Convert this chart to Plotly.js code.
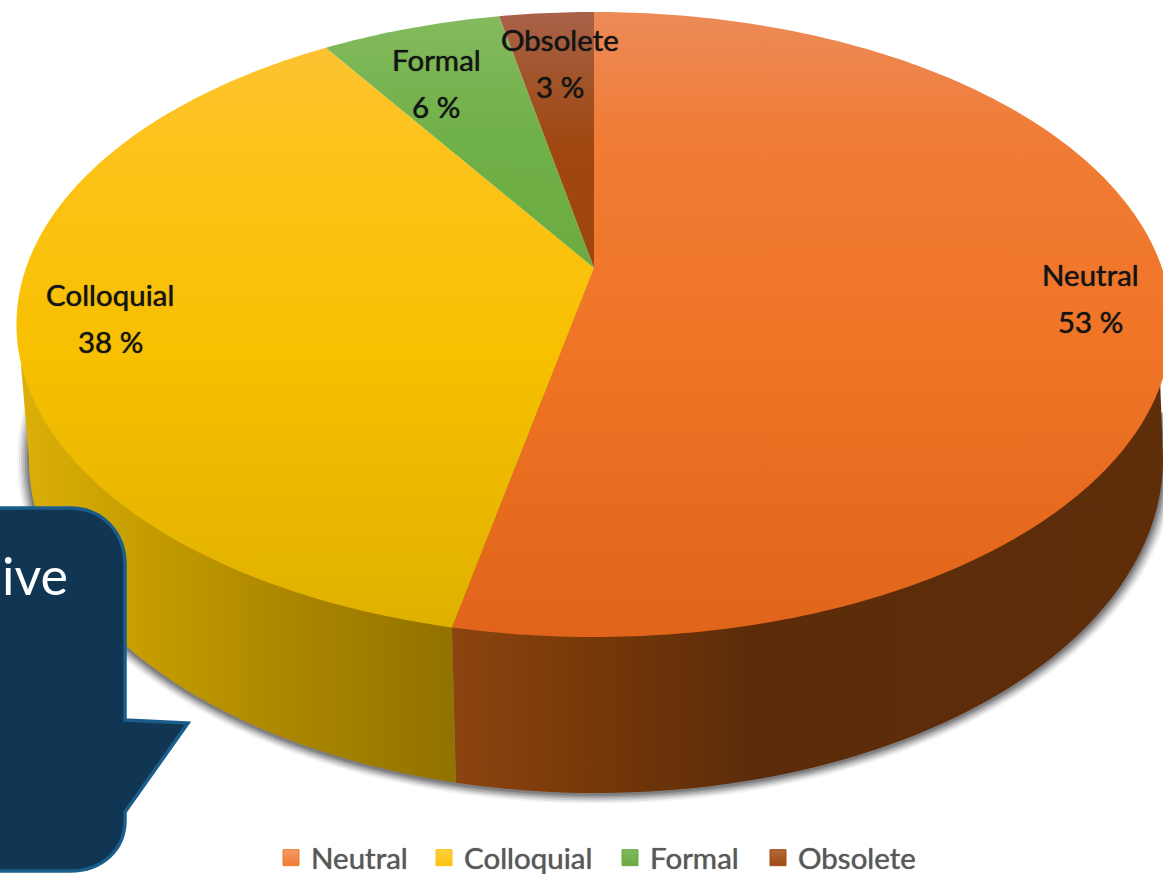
<!DOCTYPE html>
<html><head><meta charset="utf-8">
<script src="https://cdn.plot.ly/plotly-3.0.1.min.js"></script>
<style>html,body{margin:0;padding:0;background:#fff;overflow:hidden}#c{width:1163px;height:874px}</style>
</head><body><div id="c"></div>
<script>
const categories = ['Neutral', 'Colloquial', 'Formal', 'Obsolete'];
const shares = [53.3, 37.55, 6.0, 3.15];
const swatchColors = ['#f07a30', '#fdc210', '#6aab40', '#a04a14'];
const swatchLight = ['#f59a68', '#fdd040', '#80b860', '#b06a3a'];
const legendLeft = [271, 424, 610, 758];
const labelTextColor = '#141414';

// Perspective disc: circle projected to the page
const cx = 594, halfW = 568, persp = 0.1808, apexLift = 369, baseY = 637;
function project(pct) {
  const t = pct / 100 * 2 * Math.PI, u = Math.sin(t), v = Math.cos(t), w = 1 + persp * v;
  return [cx + halfW * u / w, baseY - apexLift * (v + 1) / w];
}
const apex = [cx, baseY - apexLift];
// Lower rim of the drum
const rim = {cx: 596, a: 567, cy: 459, b: 334};
function rimPt(phi) { return [rim.cx + rim.a * Math.cos(phi), rim.cy + rim.b * Math.sin(phi)]; }

const topScales = [
  [[0,'#ec8a58'],[0.2,'#f07c36'],[0.55,'#f07425'],[1,'#e0641a']],
  [[0,'#fcc23a'],[0.2,'#fdc31c'],[0.55,'#f7c000'],[1,'#dfb000']],
  [[0,'#84bb5e'],[0.2,'#70b048'],[1,'#5f9f30']],
  [[0,'#a9634a'],[0.1,'#a2552c'],[0.22,'#a0470f'],[1,'#9a3f08']]
];

const traces = [];
// soft shadow under the drum
[[12,0.06],[10,0.1],[8,0.14],[6,0.18],[4,0.24],[2,0.32]].forEach(([g, op]) => {
  const xs = [], ys = [];
  for (let d = -8; d <= 198; d += 2) {
    const p = d * Math.PI / 180;
    xs.push(rim.cx + (rim.a + g) * Math.cos(p));
    ys.push(rim.cy + 1 + (rim.b + g * 0.8) * Math.sin(p));
  }
  traces.push({x: xs, y: ys, mode: 'none', fill: 'toself', fillcolor: 'rgba(70,70,75,' + op + ')', showlegend: false, hoverinfo: 'skip'});
});

// side walls: split sits where the Neutral slice ends
const split = project(shares[0]);
const splitPhi = Math.acos((split[0] + 4 - rim.cx) / rim.a);
function wall(from, to, extra) {
  const xs = [], ys = [], n = 90;
  for (let i = 0; i <= n; i++) { const q = rimPt(from + (to - from) * i / n); xs.push(q[0]); ys.push(q[1]); }
  extra.forEach(q => { xs.push(q[0]); ys.push(q[1]); });
  return [xs, ys];
}
let w = wall(0, splitPhi, [split, apex, [1160, 378]]);
traces.push({x: w[0], y: w[1], mode: 'none', fill: 'toself', showlegend: false, hoverinfo: 'skip',
  fillcolor: '#5c2c0a',
  fillgradient: {type: 'horizontal', start: split[0], stop: 1163,
    colorscale: [[0,'#8c4410'],[0.2,'#763808'],[0.42,'#5c2c0a'],[1,'#5e2d0a']]}});
w = wall(splitPhi, Math.PI, [[21, 365], apex, split]);
traces.push({x: w[0], y: w[1], mode: 'none', fill: 'toself', showlegend: false, hoverinfo: 'skip',
  fillcolor: '#b08a00',
  fillgradient: {type: 'horizontal', start: 20, stop: split[0],
    colorscale: [[0,'#dcb008'],[0.3,'#c49c00'],[0.65,'#a98500'],[1,'#927200']]}});

// top slices
let cum = 0;
shares.forEach((s, i) => {
  const xs = [apex[0]], ys = [apex[1]];
  const steps = Math.max(8, Math.round(s * 4));
  for (let k = 0; k <= steps; k++) { const q = project(cum + s * k / steps); xs.push(q[0]); ys.push(q[1]); }
  xs.push(apex[0]); ys.push(apex[1]);
  traces.push({x: xs, y: ys, mode: 'none', fill: 'toself', showlegend: false, hoverinfo: 'skip',
    fillcolor: swatchColors[i],
    fillgradient: {type: 'vertical', start: 12, stop: 637, colorscale: topScales[i]}});
  cum += s;
});

// legend entries: one small legend per category so each can be placed
const legendFont = {family: 'Lato, sans-serif', size: 29.5, color: '#595959', shadow: '0 0 1px #595959'};
const extraLegends = {};
categories.forEach((c, i) => {
  const id = i === 0 ? 'legend' : 'legend' + (i + 1);
  traces.push({x: [null], y: [null], name: c, legend: id, mode: 'markers', hoverinfo: 'skip',
    marker: {symbol: 'square', size: 16, color: swatchLight[i], line: {width: 1, color: swatchColors[i]},
      gradient: {type: 'vertical', color: swatchColors[i]}}});
  extraLegends[id] = {x: legendLeft[i] / 1163, xanchor: 'left', y: 1 - 858 / 874, yanchor: 'middle',
    font: legendFont, itemsizing: 'trace', itemclick: false, itemdoubleclick: false, bgcolor: 'rgba(0,0,0,0)'};
});

const labelPos = [[1090, 274, 321], [110, 294, 341], [436, 59, 106], [560, 39, 86]];
const annotations = [];
categories.forEach((c, i) => {
  const [x, y1, y2] = labelPos[i];
  const font = {family: 'Lato, sans-serif', size: 29.5, color: labelTextColor, shadow: '0 0 1px #141414'};
  annotations.push({x, y: y1, text: c, showarrow: false, font});
  annotations.push({x, y: y2, text: Math.round(shares[i]) + ' %', showarrow: false, font});
});
annotations.push({x: 70, y: 575, text: 'ive', xanchor: 'right', showarrow: false,
  font: {family: 'Lato, sans-serif', size: 52, color: '#ffffff'}});

const callout = 'M -20 508 L 70 508 C 102 508 125 532 125 565 L 125 720 L 188 723 L 125 812 ' +
  'L 125 820 C 125 850 102 871 70 871 L -20 871 Z';

Plotly.newPlot('c', traces, Object.assign({
  width: 1163, height: 874,
  margin: {l: 0, r: 0, t: 0, b: 0, autoexpand: false},
  paper_bgcolor: '#ffffff', plot_bgcolor: '#ffffff',
  xaxis: {range: [0, 1163], visible: false, fixedrange: true},
  yaxis: {range: [874, 0], visible: false, fixedrange: true},
  showlegend: true,
  shapes: [{type: 'path', path: callout, xref: 'x', yref: 'y', layer: 'above',
    fillcolor: '#103654', line: {color: '#1a5c8a', width: 3.5}}],
  annotations
}, extraLegends), {displayModeBar: false, staticPlot: true});
</script></body></html>
